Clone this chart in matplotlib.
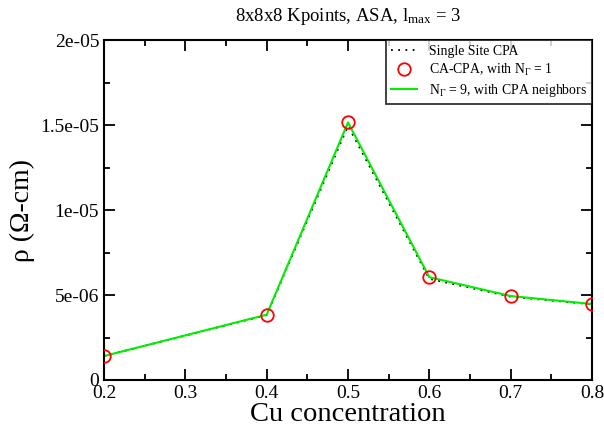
import numpy as np
import matplotlib
matplotlib.use('Agg')
import matplotlib.pyplot as plt
from matplotlib.ticker import MultipleLocator, FixedFormatter, FixedLocator

plt.rcParams['font.family'] = ['Liberation Serif', 'DejaVu Serif']
plt.rcParams['mathtext.fontset'] = 'custom'
plt.rcParams['mathtext.rm'] = 'Liberation Serif'
plt.rcParams['mathtext.it'] = 'Liberation Serif'

cu_conc = [0.2, 0.4, 0.5, 0.6, 0.7, 0.8]
single_site = [1.41e-6, 3.82e-6, 1.495e-5, 5.95e-6, 4.90e-6, 4.45e-6]
ca_cpa = [1.41e-6, 3.84e-6, 1.518e-5, 6.05e-6, 4.94e-6, 4.47e-6]
n9_cpa = [1.41e-6, 3.84e-6, 1.515e-5, 6.05e-6, 4.94e-6, 4.47e-6]

y_ticks = [0, 5e-6, 1e-5, 1.5e-5, 2e-5]
y_tick_labels = ['0', '5e-06', '1e-05', '1.5e-05', '2e-05']

fig = plt.figure(figsize=(6.04, 4.25), dpi=100)
ax = fig.add_axes([104 / 604, 1 - 380 / 425, 488 / 604, 340 / 425])

ax.plot(cu_conc, single_site, color='black', linestyle=(0, (1, 3)), linewidth=1.3,
        label='Single Site CPA', zorder=2)
ax.plot(cu_conc, ca_cpa, linestyle='none', marker='o', markersize=9, markerfacecolor='none',
        markeredgecolor='red', markeredgewidth=1.3, label=r'CA-CPA, with N$_\Gamma$ = 1', zorder=3)
ax.plot(cu_conc, n9_cpa, color='#00ee00', linewidth=1.5,
        label=r'N$_\Gamma$ = 9, with CPA neighbors', zorder=2)

ax.set_xlim(0.2, 0.8)
ax.set_ylim(0, 2e-5)
ax.xaxis.set_major_locator(MultipleLocator(0.1))
ax.xaxis.set_minor_locator(MultipleLocator(0.05))
ax.yaxis.set_major_locator(FixedLocator(y_ticks))
ax.yaxis.set_major_formatter(FixedFormatter(y_tick_labels))
ax.yaxis.set_minor_locator(MultipleLocator(2.5e-6))
ax.tick_params(which='both', direction='in', top=True, right=True, labelsize=14, width=1.3)
ax.tick_params(which='major', length=8)
ax.tick_params(which='minor', length=4)
for sp in ax.spines.values():
    sp.set_linewidth(1.5)

ax.set_xlabel('Cu concentration', fontsize=20.5)
ax.xaxis.label.set_va('baseline')
ax.xaxis.set_label_coords(0.5, -0.122)
ax.set_ylabel(r'ρ (Ω-cm)', fontsize=20)
ax.set_title(r'8x8x8 Kpoints, ASA, l$_{\rm max}$ = 3', fontsize=13.5, pad=14)

leg = ax.legend(loc='upper right', fontsize=9.9, frameon=True, fancybox=False,
                edgecolor='black', borderaxespad=0.0, handlelength=1.9,
                handletextpad=0.9, labelspacing=0.3, borderpad=0.35)
leg.get_frame().set_linewidth(1.3)

fig.savefig('out.png', dpi=100)
